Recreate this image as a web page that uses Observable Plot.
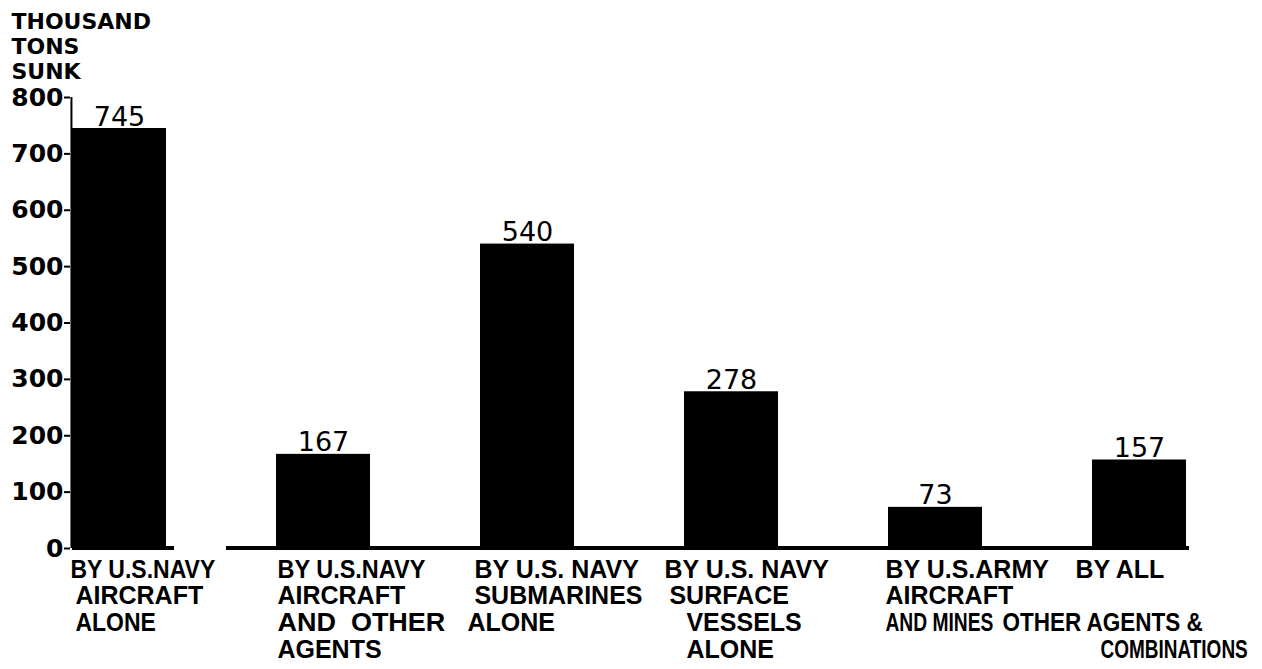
<!DOCTYPE html>
<html>
<head>
<meta charset="utf-8">
<script src="https://cdn.jsdelivr.net/npm/d3@7"></script>
<script src="https://cdn.jsdelivr.net/npm/@observablehq/plot@0.6"></script>
<style>
  html, body { margin: 0; padding: 0; background: #fff; }
  svg text { white-space: pre; }
</style>
</head>
<body>
<div id="chart"></div>
<script>
// ---------- data ----------
const categories = [
  "Navy aircraft alone",
  "Navy aircraft and other agents",
  "Navy submarines alone",
  "Navy surface vessels alone",
  "Army aircraft and mines",
  "All other agents & combinations"
];
const tonsSunk = [745, 167, 540, 278, 73, 157];
const valueLabels = ["745", "167", "540", "278", "73", "157"];
const yTicks = [0, 100, 200, 300, 400, 500, 600, 700, 800];
const yTitle = ["THOUSAND", "TONS", "SUNK"];
const categoryLines = [
  ["BY U.S.NAVY", "AIRCRAFT", "ALONE"],
  ["BY U.S.NAVY", "AIRCRAFT", "AND  OTHER", "AGENTS"],
  ["BY U.S. NAVY", "SUBMARINES", "ALONE"],
  ["BY U.S. NAVY", "SURFACE", "VESSELS", "ALONE"],
  ["BY U.S.ARMY", "AIRCRAFT", "AND MINES"],
  ["BY ALL", "", "OTHER AGENTS &", "COMBINATIONS"]
];

// ---------- layout (not data) ----------
const W = 1262, H = 669;
const mL = 70, mR = 75, mT = 97, mB = 121;
const padInner = 0.54;
const step = (W - mL - mR) / (categories.length - padInner);
const bw = step * (1 - padInner);
// per label line: offset from the bar's left edge, and horizontal squeeze
const lineShift = [[-2, 3, 3], [1, 1, 1, 1], [-6, -6, -13], [-20, -15, 2, 2], [-3, -3, -3], [-17, 0, -90, 8]];
const lineSqueeze = [[0.92, 1, 0.92], [0.94, 1, 1.08, 1], [1, 1, 1], [1, 1, 1, 1], [1, 1, 0.77], [1, 1, 0.9, 0.76]];

const bars = categories.map((c, i) => ({category: c, tons: tonsSunk[i], label: valueLabels[i]}));

const labelFont = "Liberation Sans, Arial, Helvetica, sans-serif";

const marks = [
  Plot.barY(bars, {x: "category", y: "tons", fill: "black"}),
  Plot.text(bars, {x: "category", y: "tons", text: "label", lineAnchor: "bottom", dy: -3,
    fontFamily: "DejaVu Sans", fontSize: 27, fill: "black"}),
  // baseline segments
  Plot.barY([categories[0]], {x: d => d, y1: 0, y2: 0, insetTop: -2, insetBottom: -2, insetRight: -8, fill: "black"}),
  Plot.barY(categories.slice(1, -1), {x: d => d, y1: 0, y2: 0, insetTop: -2, insetBottom: -2, insetLeft: -50, insetRight: -61, fill: "black"}),
  Plot.barY(categories.slice(-1), {x: d => d, y1: 0, y2: 0, insetTop: -2, insetBottom: -2, insetLeft: -50, insetRight: -3, fill: "black"}),
  // vertical axis line
  Plot.ruleX([categories[0]], {x: d => d, y1: 0, y2: 800, dx: -bw / 2 - 1, strokeWidth: 2, stroke: "black"}),
  Plot.axisY({ticks: yTicks, tickSize: 6, tickPadding: 1, strokeWidth: 2, label: null,
    fontSize: 25, fontWeight: "bold", fontFamily: "DejaVu Sans"}),
  Plot.text([yTitle.join("\n")], {text: d => d, frameAnchor: "top-left", textAnchor: "start",
    lineAnchor: "bottom", lineHeight: 25 / 22, dx: 11 - mL, dy: 78 - mT,
    fontFamily: "DejaVu Sans", fontWeight: "bold", fontSize: 22, fill: "black"})
];

categoryLines.forEach((lines, i) => lines.forEach((t, j) => {
  if (!t) return;
  marks.push(Plot.text([categories[i]], {
    x: d => d, text: () => t, frameAnchor: "bottom", textAnchor: "start", lineAnchor: "bottom",
    dx: -bw / 2 + lineShift[i][j], dy: 29 + 26.7 * j,
    fontFamily: labelFont, fontWeight: "bold", fontSize: 25, fill: "black",
    ariaLabel: () => `catlabel ${i} ${j}`
  }));
}));

const svg = Plot.plot({
  width: W, height: H,
  marginLeft: mL, marginRight: mR, marginTop: mT, marginBottom: mB,
  style: {background: "white", color: "black", fontFamily: "DejaVu Sans", overflow: "visible"},
  x: {type: "band", domain: categories, paddingInner: padInner, paddingOuter: 0, axis: null},
  y: {domain: [0, 800], axis: null},
  marks
});

document.getElementById("chart").appendChild(svg);

d3.select(svg).selectAll("[aria-label^='catlabel']").each(function () {
  const parts = this.getAttribute("aria-label").split(" ");
  const s = lineSqueeze[+parts[1]][+parts[2]];
  if (s === 1) return;
  const texts = this.tagName.toLowerCase() === "text" ? [this] : Array.from(this.querySelectorAll("text"));
  texts.forEach(el => {
    const tr = el.getAttribute("transform");
    if (tr) el.setAttribute("transform", tr + ` scale(${s},1)`);
    else {
      const x = +el.getAttribute("x") || 0, y = +el.getAttribute("y") || 0;
      el.removeAttribute("x"); el.removeAttribute("y");
      el.setAttribute("transform", `translate(${x},${y}) scale(${s},1)`);
    }
  });
});
</script>
</body>
</html>
